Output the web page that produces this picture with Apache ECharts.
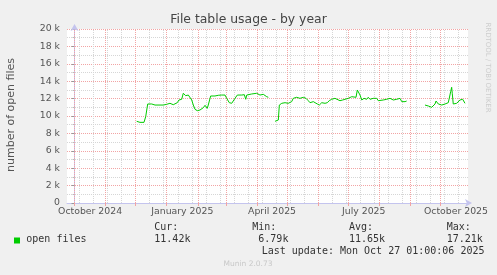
<!DOCTYPE html>
<html>
<head>
<meta charset="utf-8">
<script src="https://cdn.jsdelivr.net/npm/echarts@6/dist/echarts.min.js"></script>
<style>
html,body{margin:0;padding:0;background:#f0f0f0;}
#c{width:497px;height:275px;}
</style>
</head>
<body>
<div id="c"></div>
<script>
// x values are days since 2024-10-01 (day 0 = 1 Oct 2024)
const dayOffsets = [
  62.0,65.3,69.3,71.0,73.0,77.0,80.3,88.6,91.9,95.2,98.5,100.2,102.5,104.2,106.9,108.5,109.5,110.9,113.5,115.2,
  116.9,118.5,120.2,122.5,125.2,126.9,128.5,130.2,132.4,133.4,134.4,135.8,140.1,141.8,143.4,145.1,146.8,148.4,150.1,151.8,
  154.4,156.8,158.4,160.1,162.4,166.8,168.4,169.4,170.8,171.8,176.7,178.3,181.7,185.0,188.3,190.0,191.7,193.3,
  196.5,
  200.0,203.3,204.3,206.7,210.0,213.2,214.9,216.6,218.2,221.6,224.9,226.6,228.2,230.9,233.2,234.9,236.6,238.2,239.9,242.2,
  244.2,246.6,248.2,249.9,252.1,254.1,256.5,258.1,259.8,261.5,264.8,267.5,269.8,273.1,274.8,276.5,278.1,280.8,282.1,283.1,
  284.8,286.5,288.8,291.4,293.0,294.7,298.0,299.7,301.4,303.0,304.7,308.0,309.7,311.4,314.7,318.0,321.4,324.7,326.4,328.0,
  329.7,331.3,
  340.0,
  349.6,352.9,356.3,357.9,359.6,360.6,362.9,364.6,366.3,369.6,371.3,372.8,373.8,375.2,376.2,376.8,377.8,379.5,381.2,382.8,
  384.5,387.2,388.5,389.5
];
const openFiles = [
  9390,9270,9270,9920,11380,11380,11260,11260,11340,11460,11300,11460,11530,11840,11920,12610,12760,12340,12410,12220,
  11840,11260,10770,10610,10690,10770,10960,11230,10880,11260,11380,12300,12300,12220,12380,12220,12410,12300,12410,12030,
  11530,11460,11650,12030,12410,12410,12220,12450,11920,12410,12530,12530,12610,12410,12490,12410,12220,12150,
  null,
  9390,9540,11260,11460,11530,11460,11380,11650,12030,12150,12030,12220,12150,12030,11760,11530,11460,11650,11650,11380,
  11260,11530,11650,11460,11530,11760,11920,11840,12030,11920,11760,11840,11920,12030,11920,12220,12030,12150,12990,13070,
  12410,11840,12030,11920,12150,11920,12030,11840,12030,11760,11920,11840,12030,11920,12030,11840,11920,12030,11650,11460,
  11650,11720,
  null,
  11260,11150,11000,11070,11380,11720,11380,11380,11260,11380,11460,11530,12030,12800,13300,12610,11380,11380,11460,11650,
  11840,11920,11840,11460
];
// month starts (days since 2024-10-01) — major (red) grid
const monthStartDays = [0,31,61,92,123,151,182,212,243,273,304,335,365];
// two-weekly minor (grey) grid
const minorGridDays = [5,19,33,47,61,75,89,103,117,131,145,159,173,187,201,215,229,243,257,271,285,299,313,327,341,355,369,383];
// x labels at month midpoints
const xLabelDays = [15.5,107.5,197,288.5,380.5];
const xLabelNames = ['October 2024','January 2025','April 2025','July 2025','October 2025'];

const statHeads = ['Cur:','Min:','Avg:','Max:'];
const statValues = ['11.42k','6.79k','11.65k','17.21k'];
const seriesName = 'open files';

const data = dayOffsets.map((d,i)=>[d, openFiles[i]===null?'-':openFiles[i]]);

const RED = '#f2a4a4', GREY = '#d6d6d6';
const markData = [];
minorGridDays.forEach(d=>markData.push({xAxis:d, lineStyle:{color:GREY,type:[1,1],width:1}}));
monthStartDays.forEach(d=>markData.push({xAxis:d, lineStyle:{color:RED,type:[1,1],width:1}}));

const chart = echarts.init(document.getElementById('c'), null, {renderer:'canvas'});
const mono = '"DejaVu Sans Mono", monospace';
const sans = '"DejaVu Sans", sans-serif';
const statX = [154.3,252.3,349,446.7];
const valX = [154.3,258.3,349,446.7];
const graphic = [
  {type:'text', x:248.5, y:20, style:{text:'File table usage - by year', font:'12.4px '+sans, fill:'#444', textAlign:'center', textVerticalAlign:'middle'}},
  {type:'text', x:11, y:115, rotation:Math.PI/2, style:{text:'number of open files', font:'11px '+sans, fill:'#555', textAlign:'center', textVerticalAlign:'middle'}},
  {type:'text', x:488, y:67.5, rotation:-Math.PI/2, style:{text:'RRDTOOL / TOBI OETIKER', font:'7px '+sans, fill:'#cdcdcd', textAlign:'center', textVerticalAlign:'middle'}},
  {type:'rect', shape:{x:14,y:237.5,width:6,height:6}, style:{fill:'#00cc00'}},
  {type:'text', x:26.3, y:239.5, style:{text:seriesName, font:'10px '+mono, fill:'#333', textAlign:'left', textVerticalAlign:'middle'}},
  {type:'text', x:261.7, y:251.7, style:{text:'Last update: Mon Oct 27 01:00:06 2025', font:'10px '+mono, fill:'#333', textAlign:'left', textVerticalAlign:'middle'}},
  {type:'text', x:248, y:263.7, style:{text:'Munin 2.0.73', font:'7.5px '+sans, fill:'#c8c8c8', textAlign:'center', textVerticalAlign:'middle'}}
];
statHeads.forEach((t,i)=>graphic.push({type:'text', x:statX[i], y:227.5, style:{text:t, font:'10px '+mono, fill:'#333', textAlign:'left', textVerticalAlign:'middle'}}));
statValues.forEach((t,i)=>graphic.push({type:'text', x:valX[i], y:239.5, style:{text:t, font:'10px '+mono, fill:'#333', textAlign:'left', textVerticalAlign:'middle'}}));

chart.setOption({
  animation:false,
  backgroundColor:'#f0f0f0',
  grid:{left:67, top:29, width:401, height:174, show:true, backgroundColor:'#ffffff', borderWidth:0, containLabel:false},
  xAxis:{
    type:'value', min:-7.5, max:392.5,
    axisLine:{show:true, lineStyle:{color:'#c4c4ee', width:1}, symbol:['none','arrow'], symbolSize:[6,7], symbolOffset:[0,4]},
    axisTick:{show:true, customValues:monthStartDays, length:3, lineStyle:{color:RED}},
    axisLabel:{customValues:xLabelDays, formatter:(v)=>{const i=xLabelDays.indexOf(v); return i>=0?xLabelNames[i]:'';}, color:'#555', fontFamily:'DejaVu Sans', fontSize:9.33, margin:4},
    splitLine:{show:false}
  },
  yAxis:{
    type:'value', min:0, max:20000, interval:2000,
    axisLine:{show:true, lineStyle:{color:'#c4c4ee', width:1}, symbol:['none','arrow'], symbolSize:[6,7], symbolOffset:[0,5]},
    axisTick:{show:true, length:3, lineStyle:{color:'#999'}},
    minorTick:{show:true, splitNumber:2, length:2, lineStyle:{color:'#bbb'}},
    axisLabel:{color:'#555', fontFamily:'DejaVu Sans', fontSize:9.33, margin:7, formatter:(v)=> v===0?'0':(v/1000)+' k'},
    splitLine:{show:true, lineStyle:{color:RED, type:[1,1], width:1}},
    minorSplitLine:{show:true, lineStyle:{color:GREY, type:[1,1], width:1}}
  },
  series:[{
    name:seriesName, type:'line', data:data, showSymbol:false, connectNulls:false, z:3,
    lineStyle:{color:'#00cc00', width:1}, itemStyle:{color:'#00cc00'},
    markLine:{silent:true, symbol:['none','none'], z:1, label:{show:false}, animation:false, data:markData}
  }],
  graphic:graphic
});
</script>
</body>
</html>
